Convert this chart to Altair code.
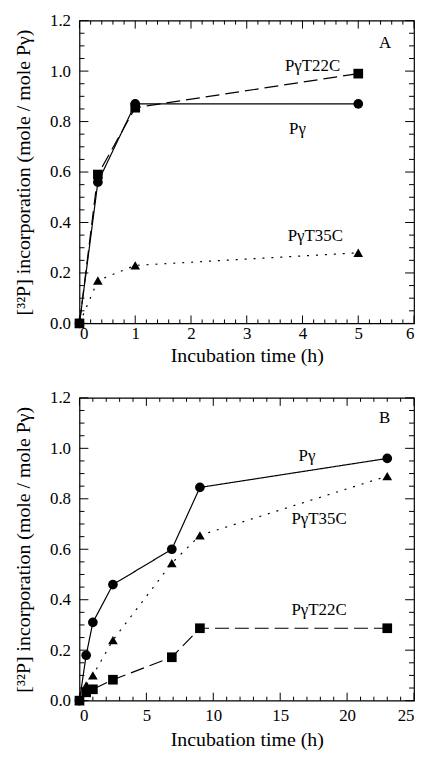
import altair as alt
import pandas as pd

FONT = "Liberation Serif"
W, H = 337, 305

series = ["Pγ", "PγT22C", "PγT35C"]

# Panel A data
a_time = [0, 0.33, 1, 5]
a_pg = [0.0, 0.56, 0.87, 0.87]
a_t22 = [0.0, 0.59, 0.855, 0.99]
a_t35 = [0.0, 0.17, 0.23, 0.28]

# Panel B data
b_time = [0, 0.5, 1, 2.5, 6.9, 9, 23]
b_pg = [0.0, 0.18, 0.31, 0.46, 0.60, 0.845, 0.96]
b_t22 = [0.0, 0.033, 0.045, 0.083, 0.172, 0.287, 0.287]
b_t35 = [0.0, 0.06, 0.10, 0.24, 0.545, 0.655, 0.89]

# annotation labels
a_lab_text = ["PγT22C", "Pγ", "PγT35C", "A"]
a_lab_x = [4.18, 3.91, 4.23, 5.48]
a_lab_y = [1.02, 0.77, 0.345, 1.11]
b_lab_text = ["Pγ", "PγT35C", "PγT22C", "B"]
b_lab_x = [17.0, 17.9, 17.9, 22.8]
b_lab_y = [0.97, 0.72, 0.36, 1.12]

# axis ticks
y_major = [0.0, 0.2, 0.4, 0.6, 0.8, 1.0, 1.2]
y_minor = [round(i * 0.05, 2) for i in range(25) if i % 4 != 0]
a_x_major = [0, 1, 2, 3, 4, 5, 6]
a_x_minor = [round(i * 0.2, 1) for i in range(31) if i % 5 != 0]
b_x_major = [0, 5, 10, 15, 20, 25]
b_x_minor = [i for i in range(26) if i % 5 != 0]

X_TITLE = "Incubation time (h)"
Y_TITLE = "[³²P] incorporation (mole / mole Pγ)"

AXIS_STYLE = dict(labelFont=FONT, labelFontSize=17, labelColor="black",
                  titleFont=FONT, titleFontSize=20, titleFontWeight="normal", titleColor="black",
                  ticks=False, domain=False, grid=False)


def make_df(t, pg, t22, t35):
    rows = []
    for name, vals in zip(series, [pg, t22, t35]):
        for ti, v in zip(t, vals):
            rows.append({"t": ti, "v": v, "s": name})
    return pd.DataFrame(rows)


def panel(df, labs, xmax, xmaj, xmin, dash22, xlp, xtp):
    xs = alt.Scale(domain=[0, xmax], nice=False, zero=False)
    ys = alt.Scale(domain=[0, 1.2], nice=False, zero=False)
    xax = alt.Axis(values=xmaj, format="d", labelPadding=xlp, title=X_TITLE, titlePadding=xtp, **AXIS_STYLE)
    yax = alt.Axis(values=y_major, format=".1f", labelPadding=9, title=Y_TITLE, titlePadding=16, **AXIS_STYLE)
    base = alt.Chart(df).encode(
        x=alt.X("t:Q", scale=xs, axis=xax),
        y=alt.Y("v:Q", scale=ys, axis=yax),
    )
    lines = base.mark_line(color="black", strokeWidth=1.2).encode(
        strokeDash=alt.StrokeDash("s:N", scale=alt.Scale(domain=series, range=[[1, 0], dash22, [2, 7]]), legend=None),
        detail="s:N",
    )
    points = base.mark_point(filled=True, color="black", opacity=1, size=95).encode(
        shape=alt.Shape("s:N", scale=alt.Scale(domain=series, range=["circle", "square", "triangle-up"]), legend=None)
    )
    text = alt.Chart(labs).mark_text(font=FONT, fontSize=17, color="black").encode(
        x=alt.X("x:Q", scale=xs, axis=xax),
        y=alt.Y("y:Q", scale=ys, axis=yax),
        text="label:N",
    )

    layers = [lines, points, text]
    # inward ticks on all four edges
    for vals, L in [(xmaj, 8), (xmin, 4)]:
        tdf = pd.DataFrame({"x": vals})
        for y0, y1 in [(H, H - L), (0, L)]:
            layers.append(alt.Chart(tdf).mark_rule(color="black", strokeWidth=1).encode(
                x=alt.X("x:Q", scale=xs, axis=xax), y=alt.value(y0), y2=alt.value(y1)))
    for vals, L in [(y_major, 9), (y_minor, 5)]:
        tdf = pd.DataFrame({"y": vals})
        for x0, x1 in [(0, L), (W, W - L)]:
            layers.append(alt.Chart(tdf).mark_rule(color="black", strokeWidth=1).encode(
                y=alt.Y("y:Q", scale=ys, axis=yax), x=alt.value(x0), x2=alt.value(x1)))
    return alt.layer(*layers).properties(width=W, height=H)


dfA = make_df(a_time, a_pg, a_t22, a_t35)
dfB = make_df(b_time, b_pg, b_t22, b_t35)
labA = pd.DataFrame({"label": a_lab_text, "x": a_lab_x, "y": a_lab_y})
labB = pd.DataFrame({"label": b_lab_text, "x": b_lab_x, "y": b_lab_y})

pA = panel(dfA, labA, 6, a_x_major, a_x_minor, [14, 6], 2, 4)
pB = panel(dfB, labB, 25, b_x_major, b_x_minor, [22, 8], 7, 6)

chart = alt.vconcat(pA, pB, spacing=22).properties(
    padding={"left": 5, "top": 0, "right": 0, "bottom": 0},
    background="white",
).configure_view(stroke="black", strokeWidth=1.2).configure_axis(
    labelFont=FONT, labelFontSize=17, labelColor="black",
    titleFont=FONT, titleFontSize=20, titleFontWeight="normal", titleColor="black",
)

chart.save("out.html", embed_options={"renderer": "svg", "actions": False})
